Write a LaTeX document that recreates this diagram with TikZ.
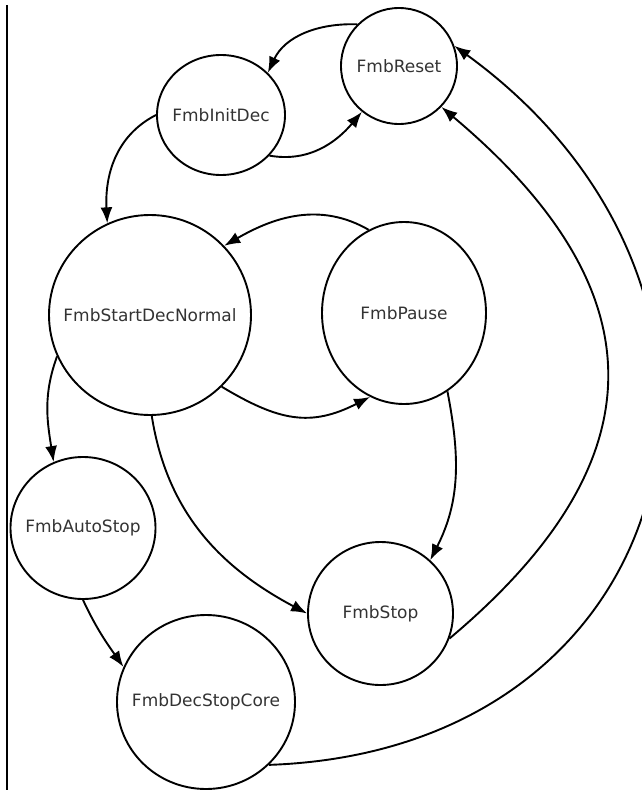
\documentclass[tikz,border=0pt]{standalone}
\usepackage{fontspec}
\setmainfont{DejaVu Sans}
\usetikzlibrary{shapes.geometric,arrows.meta}

\def\statetext#1{\makebox[0pt]{#1}} % #1 Text, takes no width inside the ellipse

\begin{document}
\begin{tikzpicture}[x=1pt,y=1pt,
    fmbstate/.style={draw, ellipse, line width=1.9pt, inner sep=0pt, text=black!80, font=\fontsize{17}{20}\selectfont},
    fmbedge/.style={line width=1.9pt, -{Latex[length=16pt,width=12pt]}}]
        \useasboundingbox (0,0) rectangle (642,-790);
        \draw[line width=1.3pt] (7,-5) -- (7,-790); %rand links

        % --------------------------------------------------

        \node[fmbstate, minimum width=116pt, minimum height=116pt] (reset) at (399,-66) {\statetext{FmbReset}};
        \node[fmbstate, minimum width=128pt, minimum height=120pt] (initdec) at (221,-115) {\statetext{FmbInitDec}};
        \node[fmbstate, minimum width=202pt, minimum height=200pt] (startdec) at (150,-315) {\statetext{FmbStartDecNormal}};
        \node[fmbstate, minimum width=164pt, minimum height=182pt] (pause) at (404,-313) {\statetext{FmbPause}};
        \node[fmbstate, minimum width=145pt, minimum height=142pt] (autostop) at (83,-528) {\statetext{FmbAutoStop}};
        \node[fmbstate, minimum width=145pt, minimum height=143pt] (stop) at (380.5,-613.5) {\statetext{FmbStop}};
        \node[fmbstate, minimum width=178pt, minimum height=174pt] (decstopcore) at (206,-702) {\statetext{FmbDecStopCore}};

        % --------------------------------------------------

        \draw[fmbedge] (reset.135) to[out=178, in=65] (initdec.42);
        \draw[fmbedge] (initdec.-40) to[out=-10, in=-130] (reset.-129);
        \draw[fmbedge] (initdec.180) to[out=207, in=93] (startdec.115);
        \draw[fmbedge] (pause.113) to[out=150, in=30] (startdec.43);
        \draw[fmbedge] (startdec.-45) to[out=-31, in=207, looseness=1.15] (pause.-112);
        \draw[fmbedge] (startdec.-156) to[out=250, in=99] (autostop.114);
        \draw[fmbedge] (startdec.-89) to[out=-81, in=152] (stop.180);
        \draw[fmbedge] (pause.-61) to[out=-79, in=63] (stop.47);
        \draw[fmbedge] (autostop.-90) to[out=-65, in=125] (decstopcore.157);
        \draw[fmbedge] (stop.-20) to[out=40, in=-40, looseness=1.35] (reset.-44); %innerer bogen
        \draw[fmbedge] (decstopcore.-45) to[out=2, in=-36, looseness=1.45] (reset.20); %aeusserer bogen
    \end{tikzpicture}
\end{document}
